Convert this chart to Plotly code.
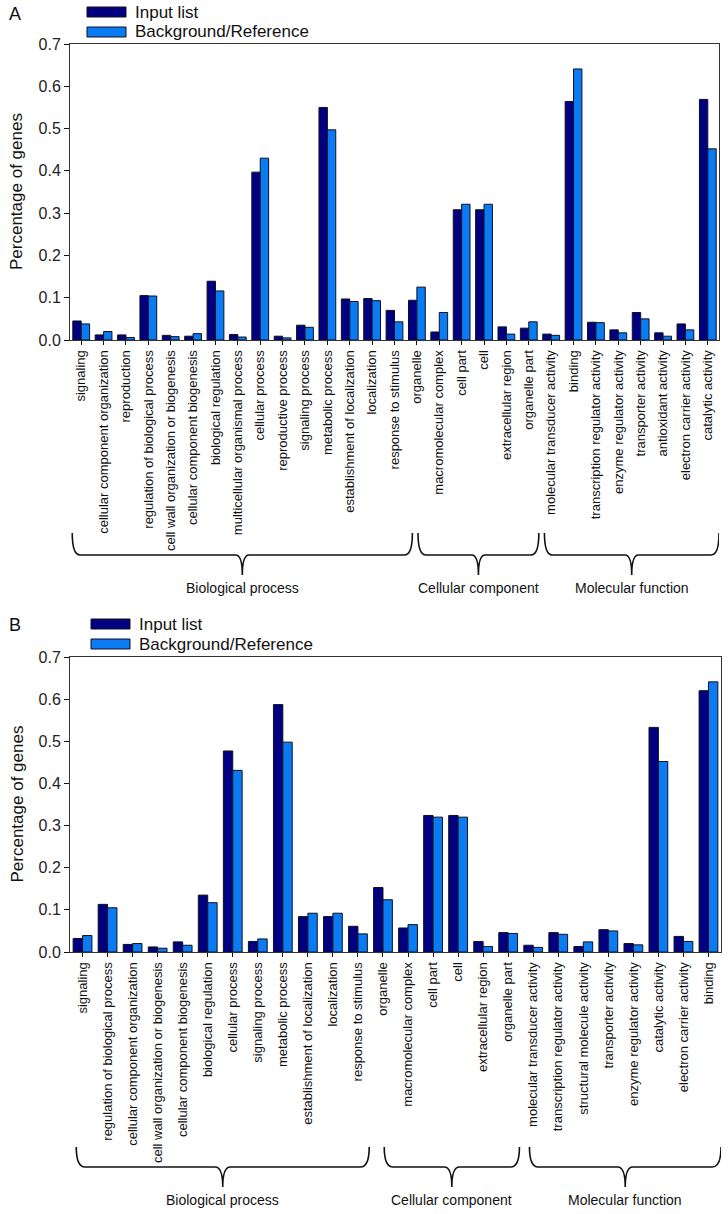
import plotly.graph_objects as go

# ---------------- Panel A data ----------------
cats_a = [
    "signaling", "cellular component organization", "reproduction",
    "regulation of biological process", "cell wall organization or biogenesis",
    "cellular component biogenesis", "biological regulation",
    "multicellular organismal process", "cellular process", "reproductive process",
    "signaling process", "metabolic process", "establishment of localization",
    "localization", "response to stimulus",
    "organelle", "macromolecular complex", "cell part", "cell",
    "extracellular region", "organelle part",
    "molecular transducer activity", "binding", "transcription regulator activity",
    "enzyme regulator activity", "transporter activity", "antioxidant activity",
    "electron carrier activity", "catalytic activity",
]
input_a = [0.045, 0.012, 0.012, 0.105, 0.011, 0.009, 0.139, 0.013, 0.397, 0.009,
           0.035, 0.550, 0.097, 0.098, 0.070,
           0.094, 0.019, 0.308, 0.308, 0.031, 0.028,
           0.014, 0.564, 0.042, 0.024, 0.065, 0.017, 0.038, 0.569]
ref_a = [0.038, 0.020, 0.006, 0.104, 0.008, 0.015, 0.116, 0.007, 0.430, 0.005,
         0.030, 0.497, 0.091, 0.093, 0.043,
         0.125, 0.065, 0.321, 0.321, 0.014, 0.043,
         0.011, 0.641, 0.041, 0.017, 0.050, 0.009, 0.024, 0.452]
groups_a = [("Biological process", 15), ("Cellular component", 6), ("Molecular function", 8)]

# ---------------- Panel B data ----------------
cats_b = [
    "signaling", "regulation of biological process", "cellular component organization",
    "cell wall organization or biogenesis", "cellular component biogenesis",
    "biological regulation", "cellular process", "signaling process",
    "metabolic process", "establishment of localization", "localization",
    "response to stimulus",
    "organelle", "macromolecular complex", "cell part", "cell",
    "extracellular region", "organelle part",
    "molecular transducer activity", "transcription regulator activity",
    "structural molecule activity", "transporter activity",
    "enzyme regulator activity", "catalytic activity",
    "electron carrier activity", "binding",
]
input_b = [0.032, 0.113, 0.018, 0.012, 0.024, 0.135, 0.477, 0.025, 0.587, 0.084,
           0.084, 0.061,
           0.153, 0.057, 0.324, 0.324, 0.025, 0.046,
           0.016, 0.046, 0.013, 0.053, 0.020, 0.533, 0.037, 0.620]
ref_b = [0.039, 0.105, 0.020, 0.009, 0.016, 0.117, 0.431, 0.031, 0.498, 0.092,
         0.092, 0.043,
         0.124, 0.065, 0.320, 0.320, 0.013, 0.044,
         0.011, 0.042, 0.024, 0.050, 0.017, 0.452, 0.025, 0.641]
groups_b = [("Biological process", 12), ("Cellular component", 6), ("Molecular function", 8)]

series_names = ["Input list", "Background/Reference"]
y_ticks = [0.0, 0.1, 0.2, 0.3, 0.4, 0.5, 0.6, 0.7]

# ---------------- styling ----------------
W, H = 728, 1214
C_IN = "#000080"
C_REF = "#0A7BF2"
FONT = "Liberation Sans, Arial, sans-serif"


def px_x(p):
    return p / W


def px_y(p):
    return 1 - p / H


fig = go.Figure()

panels = [
    dict(cats=cats_a, inp=input_a, ref=ref_a, groups=groups_a, xa="x", ya="y",
         xdom=[70, 719], ydom=[44, 340], letter="A", letter_y=14,
         leg_x=87, leg_y=[12, 32], brace=[533, 555, 575], glabel_y=588,
         pads=[(-0.4, 0.8), (0.05, 0.45), (-0.3, 0.5)]),
    dict(cats=cats_b, inp=input_b, ref=ref_b, groups=groups_b, xa="x2", ya="y2",
         xdom=[70, 721], ydom=[657, 952], letter="B", letter_y=625,
         leg_x=91, leg_y=[624, 644], brace=[1147, 1167, 1187], glabel_y=1200,
         pads=[(-0.25, 0.45), (0.05, 0.45), (-0.15, 0.5)]),
]

shapes = []
annotations = []

for i, p in enumerate(panels):
    xs = list(range(len(p["cats"])))
    for name, vals, col in [(series_names[0], p["inp"], C_IN), (series_names[1], p["ref"], C_REF)]:
        fig.add_trace(go.Bar(
            x=xs, y=vals, name=name, xaxis=p["xa"], yaxis=p["ya"],
            marker=dict(color=col, line=dict(color="#101020", width=1)),
            showlegend=False,
        ))
    suffix = "" if i == 0 else "2"
    fig.update_layout(**{
        "xaxis" + suffix: dict(
            domain=[px_x(p["xdom"][0]), px_x(p["xdom"][1])],
            anchor="y" + suffix, automargin=False,
            range=[-0.5, len(p["cats"]) - 0.5],
            tickmode="array", tickvals=xs, ticktext=p["cats"], tickangle=-90,
            tickfont=dict(family=FONT, size=13, color="#111"),
            ticks="outside", ticklen=4, tickcolor="#111",
            showline=True, linecolor="#333", linewidth=1, mirror=True,
            showgrid=False, zeroline=False, fixedrange=True,
        ),
        "yaxis" + suffix: dict(
            domain=[px_y(p["ydom"][1]), px_y(p["ydom"][0])],
            anchor="x" + suffix, automargin=False,
            range=[0, 0.7],
            tickmode="array", tickvals=y_ticks, ticktext=[f"{v:.1f}" for v in y_ticks],
            tickfont=dict(family=FONT, size=16, color="#222"),
            ticks="outside", ticklen=5, tickcolor="#111",
            showline=True, linecolor="#333", linewidth=1, mirror=True,
            showgrid=False, zeroline=False, fixedrange=True,
        ),
    })

    # panel letter
    annotations.append(dict(text=p["letter"], xref="paper", yref="paper",
                            x=px_x(7), y=px_y(p["letter_y"]), xanchor="left", yanchor="middle",
                            showarrow=False, font=dict(family=FONT, size=18, color="#111")))
    # y title
    annotations.append(dict(text="Percentage of genes", xref="paper", yref="paper",
                            x=px_x(17), y=px_y((p["ydom"][0] + p["ydom"][1]) / 2),
                            xanchor="center", yanchor="middle", textangle=-90,
                            showarrow=False, font=dict(family=FONT, size=17, color="#111")))
    # legend (manual)
    for name, col, ly in [(series_names[0], C_IN, p["leg_y"][0]), (series_names[1], C_REF, p["leg_y"][1])]:
        shapes.append(dict(type="rect", xref="paper", yref="paper",
                           x0=px_x(p["leg_x"]), x1=px_x(p["leg_x"] + 39),
                           y0=px_y(ly - 5), y1=px_y(ly + 5),
                           fillcolor=col, line=dict(color="#101020", width=1)))
        annotations.append(dict(text=name, xref="paper", yref="paper",
                                x=px_x(p["leg_x"] + 46), y=px_y(ly), xanchor="left", yanchor="middle",
                                showarrow=False, font=dict(family=FONT, size=17, color="#111")))
    # group braces
    yt, ym, yb = [px_y(v) for v in p["brace"]]
    start = 0
    for (gname, n), (pl, pr) in zip(p["groups"], p["pads"]):
        x0 = start + pl
        x1 = start + n - 1 + pr
        xc = (x0 + x1) / 2
        d = 0.35
        dc = 0.3
        path = (f"M {x0},{yt} Q {x0},{ym} {x0 + d},{ym} L {xc - dc},{ym} "
                f"Q {xc},{ym} {xc},{yb} Q {xc},{ym} {xc + dc},{ym} "
                f"L {x1 - d},{ym} Q {x1},{ym} {x1},{yt}")
        shapes.append(dict(type="path", xref=p["xa"], yref="paper", path=path,
                           line=dict(color="#111", width=1.6)))
        annotations.append(dict(text=gname, xref=p["xa"], yref="paper",
                                x=xc, y=px_y(p["glabel_y"]), xanchor="center", yanchor="middle",
                                showarrow=False, font=dict(family=FONT, size=14, color="#111")))
        start += n

fig.update_layout(
    template="none",
    width=W, height=H,
    margin=dict(l=0, r=0, t=0, b=0, pad=0, autoexpand=False),
    paper_bgcolor="white", plot_bgcolor="white",
    barmode="group", bargap=0.25, bargroupgap=0,
    shapes=shapes, annotations=annotations,
    showlegend=False,
)

fig.write_html("out.html", config={"displayModeBar": False},
               post_script="document.body.style.margin='0';")
